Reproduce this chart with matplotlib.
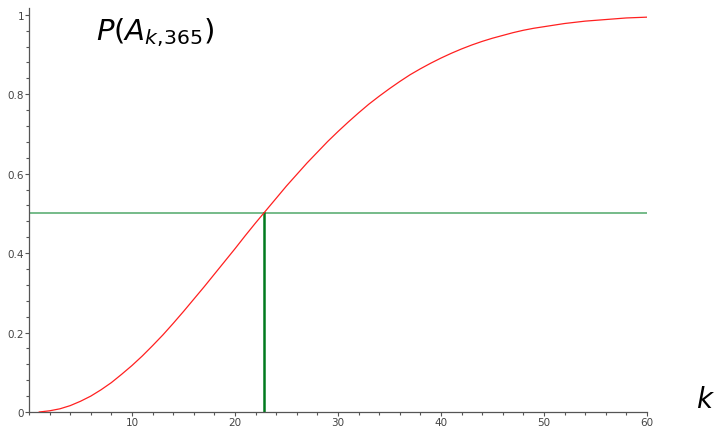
import matplotlib
matplotlib.use("Agg")
import matplotlib.pyplot as plt
from matplotlib.ticker import MultipleLocator, FixedLocator

plt.rcParams["mathtext.fontset"] = "dejavusans"

# --- data ---
k_values = list(range(1, 61))
p_values = [
    0.000, 0.003, 0.008, 0.016, 0.027, 0.040, 0.056, 0.074, 0.095, 0.117,
    0.141, 0.167, 0.194, 0.223, 0.253, 0.284, 0.315, 0.347, 0.379, 0.411,
    0.444, 0.476, 0.507, 0.538, 0.569, 0.598, 0.627, 0.654, 0.681, 0.706,
    0.730, 0.753, 0.775, 0.795, 0.814, 0.832, 0.849, 0.864, 0.878, 0.891,
    0.903, 0.914, 0.924, 0.933, 0.941, 0.948, 0.955, 0.961, 0.966, 0.970,
    0.974, 0.978, 0.981, 0.984, 0.986, 0.988, 0.990, 0.992, 0.993, 0.994,
]
half_level = 0.5
k_half = 22.77
x_ticks = [10, 20, 30, 40, 50, 60]
y_ticks = [0, 0.2, 0.4, 0.6, 0.8, 1]
y_tick_labels = ["0", "0.2", "0.4", "0.6", "0.8", "1"]

fig = plt.figure(figsize=(7.14, 4.27), dpi=100)
ax = fig.add_axes([0.0406, 0.0328, 0.8655, 0.947])

ax.plot(k_values, p_values, color="#ff2020", lw=0.9, zorder=3)
ax.axhline(half_level, color="#4fa86a", lw=1.1, zorder=2)
ax.plot([k_half, k_half], [0, half_level], color="#007a1e", lw=1.8, zorder=2)

ax.set_xlim(0, 60)
ax.set_ylim(0, 1.018)

for side in ("top", "right"):
    ax.spines[side].set_visible(False)
for side in ("left", "bottom"):
    ax.spines[side].set_color("#555555")
    ax.spines[side].set_linewidth(0.9)

ax.xaxis.set_major_locator(FixedLocator(x_ticks))
ax.xaxis.set_minor_locator(MultipleLocator(2))
ax.set_yticks(y_ticks)
ax.set_yticklabels(y_tick_labels)
ax.yaxis.set_minor_locator(MultipleLocator(0.04))
ax.tick_params(which="major", length=3, width=0.8, color="#555555",
               labelsize=7.5, labelcolor="#444444", pad=0.5)
ax.tick_params(which="minor", length=2, width=0.8, color="#555555")

fig.text(0.134, 0.905, r"$P(A_{k,\!365})$", fontsize=21, color="black")
fig.text(0.975, 0.045, r"$k$", fontsize=20, color="black")

fig.savefig("out.png", dpi=100)
